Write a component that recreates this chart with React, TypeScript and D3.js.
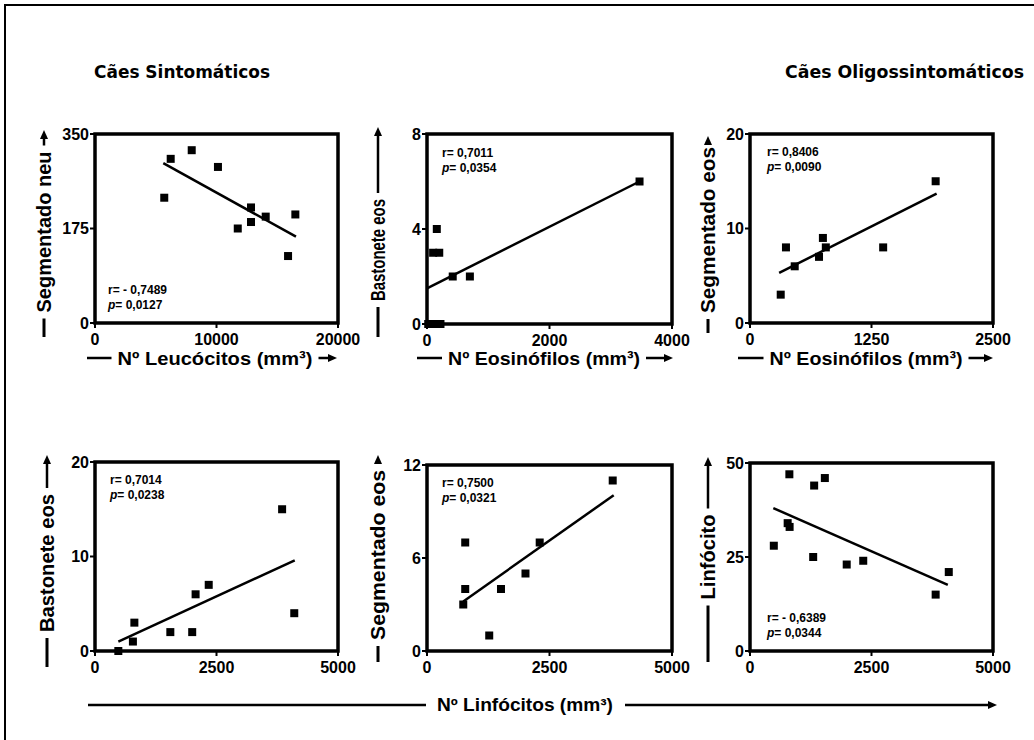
import React from 'react';
import * as d3 from 'd3';

// ---------- DATA ----------
const groupTitles = ['Cães Sintomáticos', 'Cães Oligossintomáticos'];
const bottomTitle = 'Nº Linfócitos (mm³)';

// Panel 1: Leucócitos vs Segmentado neu (sintomáticos)
const p1X = [5700, 6230, 7960, 10120, 11750, 12840, 12840, 14050, 16490, 15890];
const p1Y = [232, 304, 320, 289, 175, 214, 187, 197, 201, 124];
const p1Fit = [5620, 296, 16540, 160];

// Panel 2: Eosinófilos vs Bastonete eos (sintomáticos)
const p2X = [3470, 160, 100, 200, 420, 700, 20, 80, 150, 220];
const p2Y = [6, 4, 3, 3, 2, 2, 0, 0, 0, 0];
const p2Fit = [0, 1.5, 3470, 6.0];

// Panel 3: Eosinófilos vs Segmentado eos (oligossintomáticos)
const p3X = [316, 370, 460, 710, 750, 780, 1370, 1910];
const p3Y = [3, 8, 6, 7, 9, 8, 8, 15];
const p3Fit = [300, 5.3, 1920, 13.7];

// Panel 4: Linfócitos vs Bastonete eos (sintomáticos)
const p4X = [480, 780, 810, 1550, 2000, 2070, 2340, 3850, 4100];
const p4Y = [0, 1, 3, 2, 2, 6, 7, 15, 4];
const p4Fit = [480, 1.0, 4110, 9.6];

// Panel 5: Linfócitos vs Segmentado eos (sintomáticos)
const p5X = [740, 780, 780, 1270, 1510, 2010, 2300, 3790];
const p5Y = [3, 4, 7, 1, 4, 5, 7, 11];
const p5Fit = [740, 3.2, 3810, 10.05];

// Panel 6: Linfócitos vs Linfócito (oligossintomáticos)
const p6X = [490, 775, 815, 810, 1300, 1320, 1540, 1990, 2330, 3820, 4090];
const p6Y = [28, 34, 33, 47, 25, 44, 46, 23, 24, 15, 21];
const p6Fit = [480, 38, 4070, 17.6];

const xLabels = ['Nº Leucócitos (mm³)', 'Nº Eosinófilos (mm³)', 'Nº Eosinófilos (mm³)'];
const yLabels = ['Segmentado neu', 'Bastonete eos', 'Segmentado eos', 'Bastonete eos', 'Segmentado eos', 'Linfócito'];
const xTickSets = [[0, 10000, 20000], [0, 2000, 4000], [0, 1250, 2500], [0, 2500, 5000], [0, 2500, 5000], [0, 2500, 5000]];
const yTickSets = [[0, 175, 350], [0, 4, 8], [0, 10, 20], [0, 10, 20], [0, 6, 12], [0, 25, 50]];
const rValues = ['r= - 0,7489', 'r= 0,7011', 'r= 0,8406', 'r= 0,7014', 'r= 0,7500', 'r= - 0,6389'];
const pValues = ['0,0127', '0,0354', '0,0090', '0,0238', '0,0321', '0,0344'];

const seriesX = [p1X, p2X, p3X, p4X, p5X, p6X];
const seriesY = [p1Y, p2Y, p3Y, p4Y, p5Y, p6Y];
const fits = [p1Fit, p2Fit, p3Fit, p4Fit, p5Fit, p6Fit];

// ---------- LAYOUT ----------
const boxes = [
  { x0: 95, x1: 338, y0: 134, y1: 323 },
  { x0: 427, x1: 672, y0: 134, y1: 324 },
  { x0: 750, x1: 993, y0: 134, y1: 323 },
  { x0: 95, x1: 338, y0: 462, y1: 651 },
  { x0: 427, x1: 672, y0: 465, y1: 651 },
  { x0: 750, x1: 993, y0: 463, y1: 651 },
];
const yLabelLayout = [
  { cx: 44, top: 130, bottom: 337, tc: 232, len: 161 },
  { cx: 378, top: 127, bottom: 337, tc: 250, len: 102 },
  { cx: 708, top: 136, bottom: 333, tc: 230, len: 166 },
  { cx: 47, top: 455, bottom: 667, tc: 563, len: 138 },
  { cx: 378, top: 455, bottom: 662, tc: 555, len: 170 },
  { cx: 708, top: 457, bottom: 662, tc: 557, len: 85 },
];
const xLabelLayout = [
  { cy: 358, left: 87, right: 337, tc: 215, len: 195 },
  { cy: 358, left: 417, right: 673, tc: 544, len: 192 },
  { cy: 358, left: 738, right: 993, tc: 866, len: 193 },
];
const annLayout = [
  { x: 108, y: 290 },
  { x: 442, y: 153 },
  { x: 767, y: 152 },
  { x: 110, y: 480 },
  { x: 442, y: 483 },
  { x: 767, y: 618 },
];

const AX = 'Liberation Sans, Arial, Helvetica, sans-serif';

function ArrowUp({ x, y }: { x: number; y: number }) {
  return <polygon points={`${x},${y} ${x - 4},${y + 9} ${x + 4},${y + 9}`} fill="#000" />;
}
function ArrowRight({ x, y }: { x: number; y: number }) {
  return <polygon points={`${x},${y} ${x - 9},${y - 4} ${x - 9},${y + 4}`} fill="#000" />;
}

function Panel({ i }: { i: number }) {
  const b = boxes[i];
  const xt = xTickSets[i];
  const yt = yTickSets[i];
  const xs = d3.scaleLinear().domain([0, xt[xt.length - 1]]).range([b.x0, b.x1]);
  const ys = d3.scaleLinear().domain([0, yt[yt.length - 1]]).range([b.y1, b.y0]);
  const xv = seriesX[i];
  const yv = seriesY[i];
  const f = fits[i];
  const line = d3.line<[number, number]>().x((d) => xs(d[0])).y((d) => ys(d[1]));
  const fitPath = line([[f[0], f[1]], [f[2], f[3]]]) || '';
  const yl = yLabelLayout[i];
  const an = annLayout[i];
  const gap = 6;
  const sq = 8;
  return (
    <g>
      {/* y label */}
      <line x1={yl.cx} x2={yl.cx} y1={yl.bottom} y2={yl.tc + yl.len / 2 + gap} stroke="#000" strokeWidth={3} />
      <line x1={yl.cx} x2={yl.cx} y1={yl.tc - yl.len / 2 - gap} y2={yl.top + 6} stroke="#000" strokeWidth={2.5} />
      <ArrowUp x={yl.cx} y={yl.top} />
      <text
        transform={`translate(${yl.cx},${yl.tc}) rotate(-90)`}
        textAnchor="middle"
        dominantBaseline="central"
        fontFamily={AX}
        fontWeight="bold"
        fontSize={20}
        textLength={yl.len}
        lengthAdjust="spacingAndGlyphs"
      >
        {yLabels[i]}
      </text>
      {/* ticks */}
      {yt.map((t) => (
        <g key={'y' + t}>
          <line x1={b.x0 - 5} x2={b.x0} y1={ys(t)} y2={ys(t)} stroke="#000" strokeWidth={2} />
          <text x={b.x0 - 6} y={ys(t)} textAnchor="end" dominantBaseline="central" fontFamily={AX} fontWeight="bold" fontSize={16}>
            {t}
          </text>
        </g>
      ))}
      {xt.map((t) => (
        <g key={'x' + t}>
          <line x1={xs(t)} x2={xs(t)} y1={b.y1} y2={b.y1 + 5} stroke="#000" strokeWidth={2} />
          <text x={xs(t)} y={b.y1 + 16} textAnchor="middle" dominantBaseline="central" fontFamily={AX} fontWeight="bold" fontSize={16}>
            {t}
          </text>
        </g>
      ))}
      {/* frame */}
      <rect x={b.x0} y={b.y0} width={b.x1 - b.x0} height={b.y1 - b.y0} fill="none" stroke="#000" strokeWidth={3.5} />
      {/* fit */}
      <path d={fitPath} stroke="#000" strokeWidth={2.5} fill="none" />
      {/* points */}
      {xv.map((x, k) => (
        <rect key={k} x={xs(x) - sq / 2} y={ys(yv[k]) - sq / 2} width={sq} height={sq} fill="#000" />
      ))}
      {/* annotation */}
      <text x={an.x} y={an.y} dominantBaseline="central" fontFamily={AX} fontWeight="bold" fontSize={12}>
        {rValues[i]}
      </text>
      <text x={an.x} y={an.y + 15} dominantBaseline="central" fontFamily={AX} fontWeight="bold" fontSize={12}>
        <tspan fontStyle="italic">p</tspan>= {pValues[i]}
      </text>
    </g>
  );
}

function XLabel({ i }: { i: number }) {
  const l = xLabelLayout[i];
  const gap = 6;
  return (
    <g>
      <line x1={l.left} x2={l.tc - l.len / 2 - gap} y1={l.cy} y2={l.cy} stroke="#000" strokeWidth={2.5} />
      <line x1={l.tc + l.len / 2 + gap} x2={l.right - 6} y1={l.cy} y2={l.cy} stroke="#000" strokeWidth={2.5} />
      <ArrowRight x={l.right} y={l.cy} />
      <text x={l.tc} y={l.cy} textAnchor="middle" dominantBaseline="central" fontFamily={AX} fontWeight="bold" fontSize={19} textLength={l.len} lengthAdjust="spacingAndGlyphs">
        {xLabels[i]}
      </text>
    </g>
  );
}

export default function App() {
  return (
    <svg width={1034} height={740} style={{ position: 'absolute', left: 0, top: 0, background: '#fff' }}>
      <rect x={0} y={0} width={1034} height={740} fill="#fff" />
      <line x1={4} x2={1034} y1={5} y2={5} stroke="#000" strokeWidth={2} />
      <line x1={5} x2={5} y1={4} y2={740} stroke="#000" strokeWidth={2} />
      <text x={94} y={71} dominantBaseline="central" fontFamily="DejaVu Sans, Verdana, sans-serif" fontWeight="bold" fontSize={18} textLength={176} lengthAdjust="spacingAndGlyphs">
        {groupTitles[0]}
      </text>
      <text x={1024} y={71} textAnchor="end" dominantBaseline="central" fontFamily="DejaVu Sans, Verdana, sans-serif" fontWeight="bold" fontSize={18} textLength={239} lengthAdjust="spacingAndGlyphs">
        {groupTitles[1]}
      </text>
      {[0, 1, 2, 3, 4, 5].map((i) => (
        <Panel key={i} i={i} />
      ))}
      {[0, 1, 2].map((i) => (
        <XLabel key={i} i={i} />
      ))}
      {/* common bottom x label */}
      <line x1={88} x2={426} y1={705} y2={705} stroke="#000" strokeWidth={2.5} />
      <line x1={625} x2={990} y1={705} y2={705} stroke="#000" strokeWidth={2.5} />
      <ArrowRight x={997} y={705} />
      <text x={525} y={705} textAnchor="middle" dominantBaseline="central" fontFamily={AX} fontWeight="bold" fontSize={18} textLength={176} lengthAdjust="spacingAndGlyphs">
        {bottomTitle}
      </text>
    </svg>
  );
}
